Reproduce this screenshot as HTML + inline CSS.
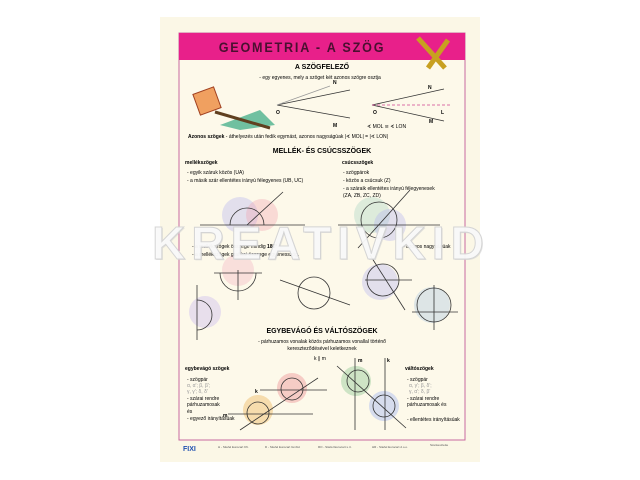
<!DOCTYPE html>
<html><head><meta charset="utf-8"><style>
html,body{margin:0;padding:0;background:#fff;}
svg{display:block;font-family:"Liberation Sans",sans-serif;}
</style></head><body>
<svg width="640" height="480" viewBox="0 0 640 480" xmlns="http://www.w3.org/2000/svg">
<rect x="160" y="17" width="320" height="445" fill="#fbf7e6"/>
<rect x="179" y="33" width="286" height="407" fill="#fdf9ea" stroke="#c86aa0" stroke-width="1"/>
<rect x="179" y="33" width="286" height="27" fill="#e8208a"/>
<text x="302" y="52" font-size="14" font-weight="bold" fill="#4a1030" text-anchor="middle" letter-spacing="2" transform="translate(302 0) scale(0.9 1) translate(-302 0)">GEOMETRIA - A SZÖG</text>
<g stroke="#c8a020" stroke-width="5"><line x1="418" y1="38" x2="445" y2="68"/><line x1="428" y1="68" x2="448" y2="40"/></g>
<text x="322" y="69" font-size="7" font-weight="bold" text-anchor="middle">A SZÖGFELEZŐ</text>
<text x="320" y="79" font-size="5" text-anchor="middle">- egy egyenes, mely a szöget két azonos szögre osztja</text>
<rect x="196" y="90" width="22" height="22" fill="#f0a060" stroke="#a04020" transform="rotate(-20 207 101)"/>
<polygon points="220,125 260,110 275,125 240,130" fill="#70c0a0"/>
<line x1="215" y1="112" x2="270" y2="128" stroke="#604020" stroke-width="3"/>
<g stroke="#333" stroke-width="0.8" fill="none">
<line x1="277" y1="105" x2="350" y2="90"/><line x1="277" y1="105" x2="350" y2="118"/>
<line x1="277" y1="105" x2="330" y2="86" stroke="#999"/>
<line x1="372" y1="105" x2="444" y2="89"/><line x1="372" y1="105" x2="444" y2="121"/>
<line x1="372" y1="105" x2="450" y2="105" stroke="#d04090" stroke-dasharray="3,2"/>
</g>
<g font-size="5" font-weight="bold"><text x="276" y="114">O</text><text x="333" y="84">N</text><text x="333" y="127">M</text><text x="373" y="114">O</text><text x="428" y="89">N</text><text x="429" y="123">M</text><text x="441" y="114">L</text></g>
<text x="367" y="128" font-size="5">∢ MOL ≅ ∢ LON</text>
<text x="188" y="138" font-size="5"><tspan font-weight="bold">Azonos szögek</tspan> - áthelyezés után fedik egymást, azonos nagyságúak  |∢ MOL| = |∢ LON|</text>
<text x="322" y="153" font-size="7" font-weight="bold" text-anchor="middle">MELLÉK- ÉS CSÚCSSZÖGEK</text>
<g font-size="5">
<text x="185" y="164" font-weight="bold">mellékszögek</text>
<text x="187" y="174">- egyik száruk közös  (UA)</text>
<text x="187" y="182">- a másik szár ellentétes irányú félegyenes  (UB, UC)</text>
<text x="342" y="164" font-weight="bold">csúcsszögek</text>
<text x="343" y="174">- szögpárok</text>
<text x="343" y="182">- közös a csúcsuk  (Z)</text>
<text x="343" y="190">- a száraik ellentétes irányú félegyenesek</text>
<text x="343" y="197">(ZA, ZB, ZC, ZD)</text>
</g>
<g fill-opacity="0.35">
<circle cx="240" cy="215" r="18" fill="#b0b0f0"/><circle cx="262" cy="215" r="16" fill="#f0a0b0"/>
<circle cx="372" cy="215" r="18" fill="#a0d0c0"/><circle cx="390" cy="225" r="16" fill="#b0b0f0"/>
<circle cx="380" cy="282" r="18" fill="#b0b0f0"/><circle cx="432" cy="305" r="18" fill="#a0c0e0"/>
<circle cx="238" cy="270" r="16" fill="#f0b0c0"/><circle cx="205" cy="312" r="16" fill="#c0b0f0"/>
</g>
<g stroke="#333" stroke-width="0.8" fill="none">
<line x1="200" y1="225" x2="305" y2="225"/><line x1="247" y1="225" x2="283" y2="192"/>
<path d="M230 225 A17 17 0 0 1 264 225"/>
<line x1="338" y1="225" x2="440" y2="225"/><line x1="358" y1="248" x2="410" y2="190"/>
<circle cx="379" cy="220" r="18"/>
<circle cx="383" cy="280" r="16"/><line x1="370" y1="255" x2="405" y2="310"/><line x1="365" y1="280" x2="412" y2="280"/>
<circle cx="434" cy="305" r="17"/><line x1="434" y1="285" x2="434" y2="330"/><line x1="412" y1="312" x2="458" y2="312"/>
<path d="M220 273 A18 18 0 0 0 256 273"/><line x1="214" y1="273" x2="262" y2="273"/><line x1="238" y1="270" x2="238" y2="300"/>
<line x1="197" y1="285" x2="197" y2="340"/><path d="M197 300 A14 14 0 0 1 197 330"/>
<circle cx="314" cy="293" r="16"/><line x1="280" y1="280" x2="350" y2="305"/>
</g>
<text x="192" y="248" font-size="5">- a mellékszögek összege mindig <tspan font-weight="bold">180°</tspan></text>
<text x="192" y="256" font-size="5">- a mellékszögek grafikai összege egyenesszög.</text>
<text x="403" y="248" font-size="5">- azonos nagyságúak</text>
<text x="322" y="260" font-size="46" font-weight="bold" text-anchor="middle" fill="#d0d0d0" fill-opacity="0.6" letter-spacing="6">KREATIVKID</text>
<text x="321" y="259" font-size="46" font-weight="bold" text-anchor="middle" fill="#fbfbfb" fill-opacity="0.9" stroke="#d4d4d4" stroke-width="1" letter-spacing="6">KREATIVKID</text>
<text x="322" y="333" font-size="7" font-weight="bold" text-anchor="middle">EGYBEVÁGÓ ÉS VÁLTÓSZÖGEK</text>
<text x="322" y="343" font-size="5" text-anchor="middle">- párhuzamos vonalak közös párhuzamos vonallal történő</text>
<text x="322" y="350" font-size="5" text-anchor="middle">kereszteződésével keletkeznek</text>
<text x="320" y="360" font-size="5" text-anchor="middle">k ∥ m</text>
<g font-size="5">
<text x="185" y="370" font-weight="bold">egybevágó szögek</text>
<text x="187" y="381">- szögpár</text>
<text x="187" y="387" fill="#999">α, α'; β, β';</text>
<text x="187" y="393" fill="#999">γ, γ'; δ, δ'</text>
<text x="187" y="400">- szárai rendre</text><text x="187" y="406">párhuzamosak</text><text x="187" y="413">és</text>
<text x="187" y="420">- egyező irányításúak</text>
<text x="405" y="370" font-weight="bold">váltószögek</text>
<text x="407" y="381">- szögpár</text>
<text x="409" y="387" fill="#999">α, γ'; β, δ';</text>
<text x="409" y="393" fill="#999">γ, α'; δ, β'</text>
<text x="407" y="400">- szárai rendre</text><text x="407" y="406">párhuzamosak és</text>
<text x="407" y="421">- ellentétes irányításúak</text>
</g>
<g fill-opacity="0.5"><circle cx="292" cy="388" r="15" fill="#f0a0a0"/><circle cx="258" cy="410" r="15" fill="#f0c070"/><circle cx="356" cy="381" r="15" fill="#a0d0a0"/><circle cx="384" cy="406" r="15" fill="#b0c0f0"/></g>
<g stroke="#333" stroke-width="0.8" fill="none">
<line x1="260" y1="390" x2="327" y2="390"/><line x1="228" y1="414" x2="313" y2="414"/>
<line x1="240" y1="430" x2="318" y2="378"/>
<circle cx="292" cy="389" r="11"/><circle cx="258" cy="413" r="11"/>
<line x1="355" y1="358" x2="355" y2="430"/><line x1="385" y1="358" x2="385" y2="430"/>
<line x1="337" y1="366" x2="406" y2="428"/>
<circle cx="358" cy="381" r="11"/><circle cx="384" cy="406" r="11"/>
</g>
<text x="255" y="393" font-size="5" font-weight="bold">k</text><text x="223" y="417" font-size="5" font-weight="bold">m</text>
<text x="358" y="362" font-size="5" font-weight="bold">m</text><text x="387" y="362" font-size="5" font-weight="bold">k</text>
<text x="183" y="451" font-size="7" font-weight="bold" fill="#2050b0">FIXI</text>
<g font-size="3" fill="#555"><text x="218" y="448">H - Stiefel Eurocart Kft.</text><text x="265" y="448">D - Stiefel Eurocart GmbH</text><text x="318" y="448">RO - Stiefel Eurocart s.r.l.</text><text x="372" y="448">HR - Stiefel Eurocart d.o.o.</text><text x="430" y="446">Szerkesztette</text></g>
</svg>
</body></html>
